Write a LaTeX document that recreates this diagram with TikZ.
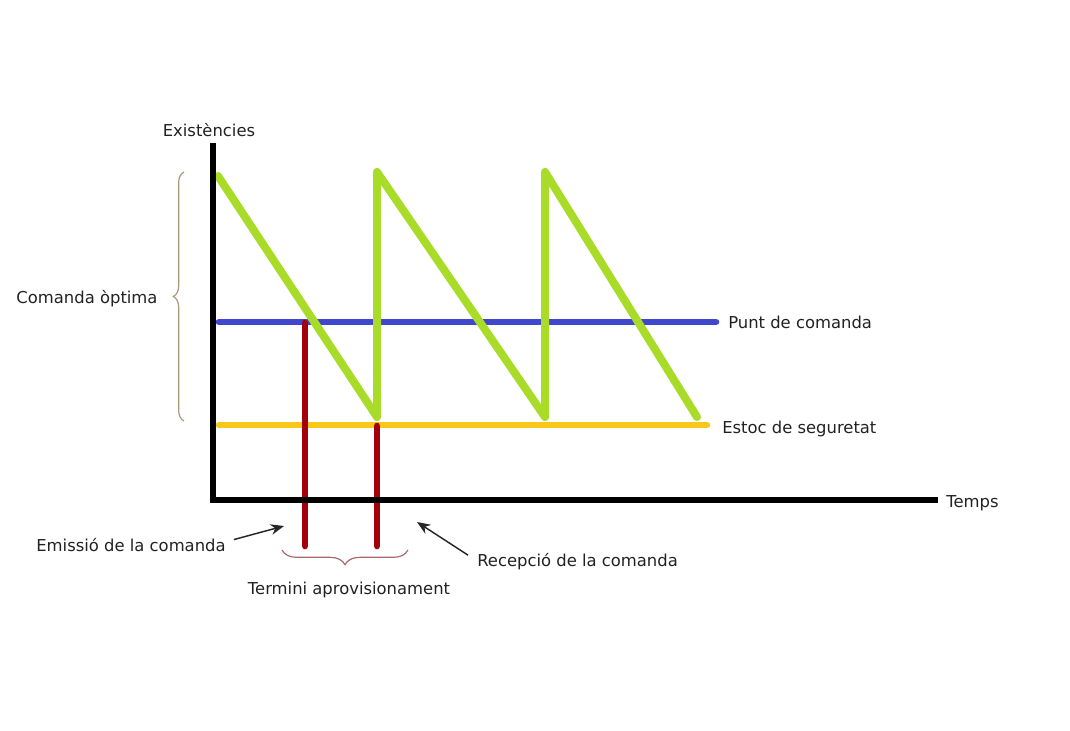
\documentclass[tikz,border=0pt]{standalone}
\usepackage{fontspec}
\setmainfont{DejaVu Sans}
\usetikzlibrary{decorations.pathreplacing,arrows.meta}
\definecolor{stockgreen}{HTML}{A8DC28}
\definecolor{orderblue}{HTML}{3F48CC}
\definecolor{safetygold}{HTML}{F7C81A}
\definecolor{leadred}{HTML}{A3000C}
\definecolor{bracetan}{HTML}{A89878}
\definecolor{bracered}{HTML}{A86A6A}
\definecolor{labelgray}{HTML}{222222}
\tikzset{
  axisline/.style={line width=5pt,black},
  levelline/.style={line width=5pt,line cap=round},
  sawline/.style={line width=6pt,stockgreen,line join=round,line cap=round},
  leadline/.style={line width=5pt,leadred,line cap=round},
  lbl/.style={font=\fontsize{12.3}{14}\selectfont,text=labelgray,inner sep=0pt},
  bracestyle/.style={decorate,line width=0.9pt},
  pointer/.style={line width=1.1pt,black!85,-{Stealth[length=10pt,width=8pt]}}
}
\begin{document}
\begin{tikzpicture}[x=0.75pt,y=-0.75pt]
\useasboundingbox (0,0) rectangle (1070,731);

% axes
\coordinate (origin) at (213,500);
\coordinate (ytop) at (213,143);
\coordinate (xend) at (938,500);

% levels
\coordinate (rop1) at (219,322);
\coordinate (rop2) at (716,322);
\coordinate (ss1) at (219,425);
\coordinate (ss2) at (707,425);

% sawtooth stock curve
\coordinate (s0) at (218,176);
\coordinate (s1) at (377,417);
\coordinate (s2) at (377,172);
\coordinate (s3) at (545,417);
\coordinate (s4) at (545,172);
\coordinate (s5) at (697,417);

% lead-time markers
\coordinate (e1) at (305,323);
\coordinate (e2) at (305,546);
\coordinate (r1) at (377,426);
\coordinate (r2) at (377,546);

\draw[levelline,orderblue] (rop1) -- (rop2);
\draw[levelline,safetygold] (ss1) -- (ss2);
\draw[leadline] (e1) -- (e2);
\draw[leadline] (r1) -- (r2);
\draw[sawline] (s0) -- (s1) -- (s2) -- (s3) -- (s4) -- (s5);
\draw[axisline] (ytop) -- (origin) -- (xend);

% labels
\node[lbl,anchor=base] (exist) at (209,137) {Existències};
\node[lbl,anchor=base west] (time) at (946,507) {Temps};
\node[lbl,anchor=base west] (rop) at (728,328) {Punt de comanda};
\node[lbl,anchor=base west] (ss) at (722,433) {Estoc de seguretat};
\node[lbl,anchor=base] (eoq) at (87,303) {Comanda òptima};
\node[lbl,anchor=base] (emit) at (131,551) {Emissió de la comanda};
\node[lbl,anchor=base] (lead) at (349,594) {Termini aprovisionament};
\node[lbl,anchor=base west] (recv) at (477,566) {Recepció de la comanda};

% braces
\coordinate (b1) at (184,421);
\coordinate (b2) at (184,172);
\draw[bracestyle,bracetan,decoration={brace,amplitude=8pt}] (b1) -- (b2);
\coordinate (c1) at (282,550);
\coordinate (c2) at (408,550);
\draw[bracestyle,bracered,decoration={brace,amplitude=11pt,mirror}] (c1) -- (c2);

% pointers
\coordinate (emitTip) at (284,526);
\coordinate (recvTip) at (417,522);
\draw[pointer] (emit.east) ++(8,-5) -- (emitTip);
\draw[pointer] (recv.west) ++(-9,-6) -- (recvTip);
\end{tikzpicture}
\end{document}
